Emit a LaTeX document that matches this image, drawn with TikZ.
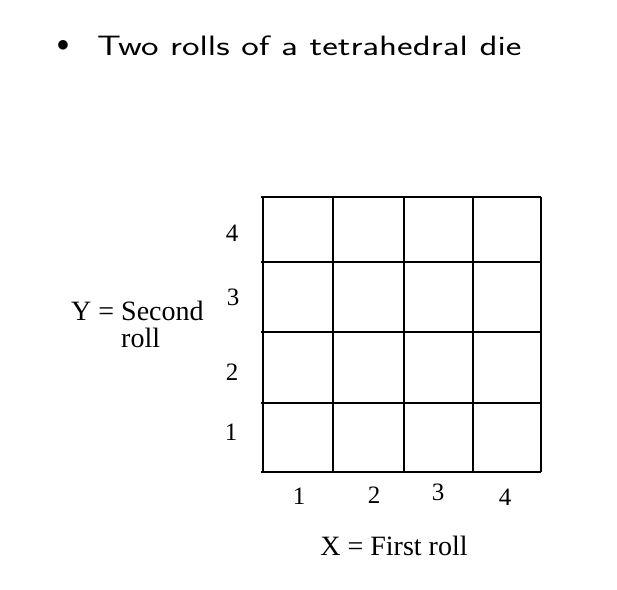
\documentclass[tikz,border=0pt]{standalone}
\usepackage{fontspec}
\usepackage{graphicx}
\newfontfamily\rollfont{Liberation Serif}
\usetikzlibrary{positioning}

\begin{document}
\begin{tikzpicture}[x=1pt, y=-1pt,
    grid line/.style={line width=1.3pt},
    num/.style={font=\rollfont\fontsize{25}{25}\selectfont, inner sep=0pt},
    axislabel/.style={font=\rollfont\fontsize{28}{27}\selectfont, inner sep=0pt, align=left},
    title/.style={font=\sffamily\fontsize{28}{30}\selectfont, inner sep=0pt}
  ]
  \useasboundingbox (0,0) rectangle (617,589);

  % title line
  \node[title, font=\fontsize{36}{36}\selectfont, anchor=center] (bullet) at (63,46) {$\bullet$};
  \node[title, anchor=base west] (head) at (97,55) {\scalebox{1.33}[1]{Two rolls of a tetrahedral die}};

  % sample space grid
  \foreach \xx in {263,333,404,473,541}
    \draw[grid line] (\xx,197) -- (\xx,472);
  \foreach \yy in {197,262,332,403,472}
    \draw[grid line] (261,\yy) -- (541,\yy);

  % values of Y
  \node[num] (y4) at (232,233) {4};
  \node[num] (y3) at (233,297) {3};
  \node[num] (y2) at (232,372) {2};
  \node[num] (y1) at (231,432) {1};

  % values of X
  \node[num] (x1) at (299,496) {1};
  \node[num] (x2) at (374,495) {2};
  \node[num] (x3) at (438,492) {3};
  \node[num] (x4) at (505,497) {4};

  % axis names
  \node[axislabel, anchor=base west] (ylab) at (71,347) {Y = Second\\\phantom{Y = }roll};
  \node[axislabel, anchor=base] (xlab) at (394,555) {X = First roll};
\end{tikzpicture}
\end{document}
